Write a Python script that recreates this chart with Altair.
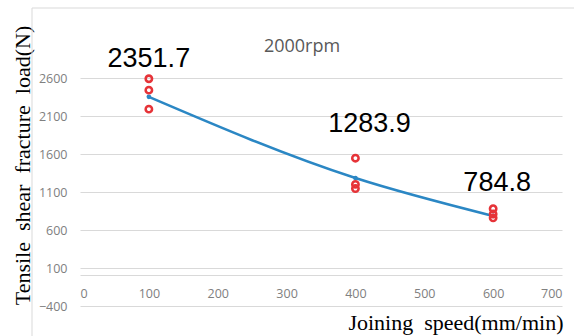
import altair as alt
import pandas as pd

# Mean values (line + labels)
speeds = [100, 400, 600]
means = [2351.7, 1283.9, 784.8]
mean_labels = ["2351.7", "1283.9", "784.8"]

# Individual samples (red hollow circles)
sample_speed = [100, 100, 100, 400, 400, 400, 600, 600, 600]
sample_load = [2590, 2440, 2190, 1545, 1200, 1145, 880, 810, 760]

x_ticks = [0, 100, 200, 300, 400, 500, 600, 700]
y_ticks = [-400, 100, 600, 1100, 1600, 2100, 2600]

mean_df = pd.DataFrame({"speed": speeds, "load": means, "label": mean_labels})
sample_df = pd.DataFrame({"speed": sample_speed, "load": sample_load})

W, H = 482, 266
GRID = "#d9d9d9"
TICK = "#808080"
NB = "\u00a0"

xscale = alt.Scale(domain=[0, 700], nice=False, zero=False)
yscale = alt.Scale(domain=[-400, 3100], nice=False, zero=False)

x_axis = alt.Axis(
    values=x_ticks, format="d", grid=False, ticks=False, domain=True,
    domainColor=GRID, domainWidth=1, offset=-31, labelPadding=12,
    labelColor=TICK, labelFont="Open Sans", labelFontSize=12.5,
    title="Joining" + NB + " speed(mm/min)", titleFont="Liberation Serif",
    titleFontSize=22, titleFontWeight="normal", titleColor="#000000",
    titleAlign="right", titleX=483, titleY=54, titleBaseline="alphabetic",
)
y_axis = alt.Axis(
    values=y_ticks, format="d", grid=True, gridColor=GRID, gridWidth=1,
    ticks=False, domain=False, labelPadding=13, labelColor=TICK,
    labelFont="Open Sans", labelFontSize=12.5,
    title="Tensile" + NB + " shear" + NB + " fracture" + NB + " load(N)",
    titleFont="Liberation Serif", titleFontSize=22, titleFontWeight="normal",
    titleColor="#000000", titleX=-51, titleY=125, titleAlign="center",
    titleBaseline="alphabetic", titleAngle=270,
)

base_x = alt.X("speed:Q", scale=xscale, axis=x_axis)
base_y = alt.Y("load:Q", scale=yscale, axis=y_axis)

line = alt.Chart(mean_df).mark_line(
    color="#2b87c4", strokeWidth=2.6, interpolate="monotone"
).encode(x=base_x, y=base_y)

mean_pts = alt.Chart(mean_df).mark_point(
    filled=True, color="#2b87c4", size=22, opacity=1
).encode(x=alt.X("speed:Q", scale=xscale), y=alt.Y("load:Q", scale=yscale))

samples = alt.Chart(sample_df).mark_point(
    shape="circle", filled=False, color="#e63338", strokeWidth=2.6, size=40,
    opacity=1
).encode(x=alt.X("speed:Q", scale=xscale), y=alt.Y("load:Q", scale=yscale))

label_offsets = [(0, -30), (14, -46), (4, -25)]
labels = []
for i, (dx, dy) in enumerate(label_offsets):
    labels.append(
        alt.Chart(mean_df.iloc[[i]]).mark_text(
            font="Liberation Sans", fontSize=27, color="#000000",
            baseline="alphabetic", align="center", dx=dx, dy=dy
        ).encode(
            x=alt.X("speed:Q", scale=xscale),
            y=alt.Y("load:Q", scale=yscale),
            text="label:N",
        )
    )

subtitle = alt.Chart(alt.Data(values=[{"t": "2000rpm"}])).mark_text(
    font="Open Sans", fontSize=18, color="#595959", align="center",
    baseline="middle"
).encode(x=alt.value(222), y=alt.value(7), text="t:N")

frame_data = alt.Data(values=[{"a": 1}])
frame_top = alt.Chart(frame_data).mark_rule(color=GRID, strokeWidth=1).encode(
    x=alt.value(-48), x2=alt.value(520), y=alt.value(-32)
)
frame_left = alt.Chart(frame_data).mark_rule(color=GRID, strokeWidth=1).encode(
    x=alt.value(-48), y=alt.value(-32), y2=alt.value(320)
)

chart = alt.layer(
    frame_top, frame_left, line, mean_pts, samples, *labels, subtitle
).properties(
    width=W, height=H,
    autosize=alt.AutoSizeParams(type="none"),
    padding={"left": 80, "top": 40, "right": 12, "bottom": 30},
    background="#ffffff",
).configure_view(stroke=None)

chart.save("out.html", embed_options={"renderer": "svg", "actions": False})
